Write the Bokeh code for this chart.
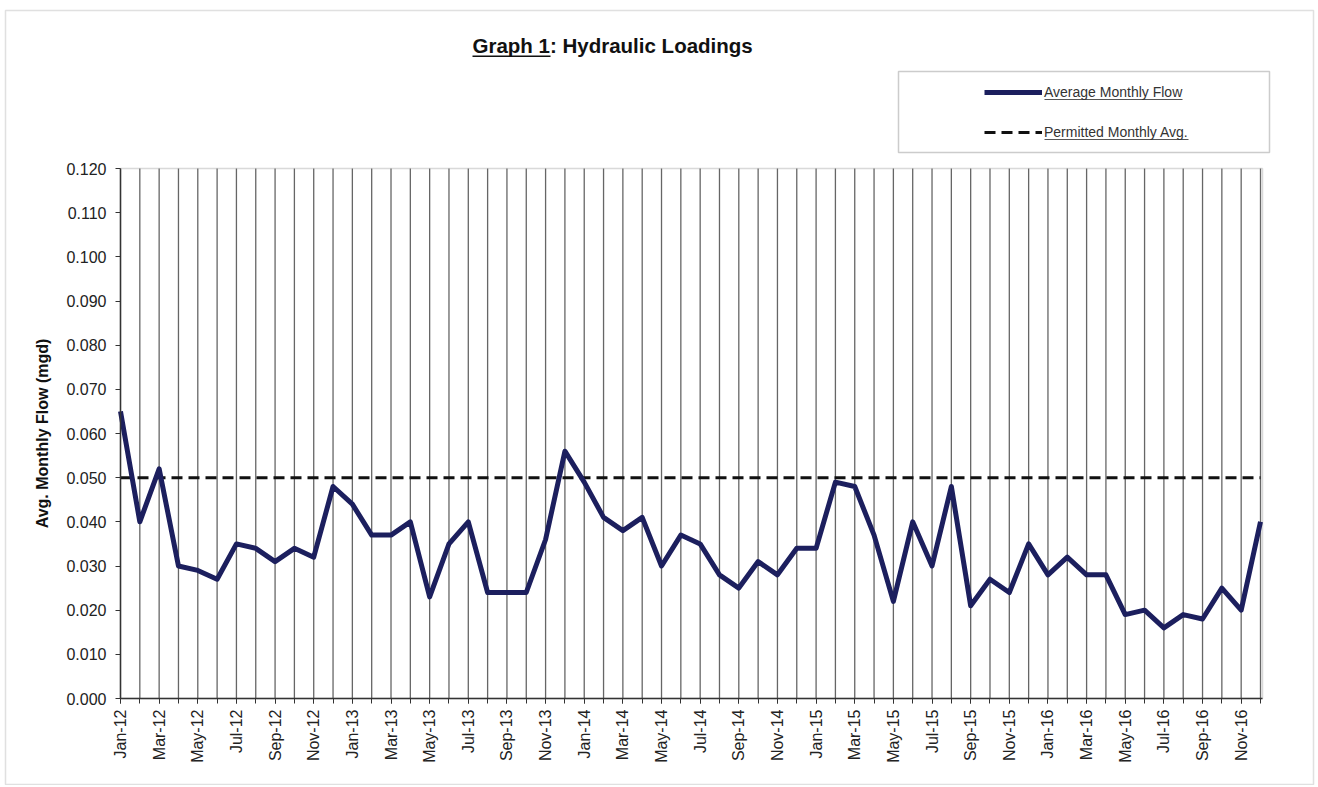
from bokeh.plotting import figure
from bokeh.models import (FixedTicker, Label, BoxAnnotation, Legend, LegendItem,
                          Range1d, PrintfTickFormatter)
from bokeh.embed import file_html
from bokeh.resources import INLINE

# ---- data ----
month_names = ["Jan", "Feb", "Mar", "Apr", "May", "Jun",
               "Jul", "Aug", "Sep", "Oct", "Nov", "Dec"]
years = ["12", "13", "14", "15", "16"]
months = [f"{m}-{y}" for y in years for m in month_names]

flow_2012 = [0.065, 0.040, 0.052, 0.030, 0.029, 0.027, 0.035, 0.034, 0.031, 0.034, 0.032, 0.048]
flow_2013 = [0.044, 0.037, 0.037, 0.040, 0.023, 0.035, 0.040, 0.024, 0.024, 0.024, 0.036, 0.056]
flow_2014 = [0.049, 0.041, 0.038, 0.041, 0.030, 0.037, 0.035, 0.028, 0.025, 0.031, 0.028, 0.034]
flow_2015 = [0.034, 0.049, 0.048, 0.037, 0.022, 0.040, 0.030, 0.048, 0.021, 0.027, 0.024, 0.035]
flow_2016 = [0.028, 0.032, 0.028, 0.028, 0.019, 0.020, 0.016, 0.019, 0.018, 0.025, 0.020, 0.040]
avg_monthly_flow = flow_2012 + flow_2013 + flow_2014 + flow_2015 + flow_2016
permitted_monthly_avg = 0.050

y_ticks = [0.000, 0.010, 0.020, 0.030, 0.040, 0.050, 0.060,
           0.070, 0.080, 0.090, 0.100, 0.110, 0.120]
y_max = 0.120

# ---- layout (page pixels) ----
W, H = 1316, 785
PLOT_L, PLOT_R, PLOT_T, PLOT_B = 120, 1262, 168, 698
LAST_MONTH_PX = 1260
FONT = "Liberation Sans"

x_idx = list(range(len(months)))
ppm = (LAST_MONTH_PX - PLOT_L) / (len(months) - 1)      # px per month
x_end = (PLOT_R - PLOT_L) / ppm
ppy = (PLOT_B - PLOT_T) / y_max                        # px per unit

p = figure(width=W, height=H, output_backend="svg", toolbar_location=None, title=None,
           x_range=Range1d(-PLOT_L / ppm, (W - PLOT_L) / ppm),
           y_range=Range1d(-(H - PLOT_B) / ppy, y_max + PLOT_T / ppy),
           min_border=0, min_border_left=0, min_border_right=0,
           min_border_top=0, min_border_bottom=0)
p.background_fill_color = "white"
p.border_fill_color = "white"
p.outline_line_color = None
p.xgrid.visible = False
p.ygrid.visible = False


def sx(px):          # page x -> screen units of the (full-canvas) frame
    return px


def sy(py):          # page y -> screen units (measured from bottom)
    return H - py


# plot-area rectangle and monthly vertical grid lines
p.add_layout(BoxAnnotation(left=0, right=x_end, bottom=0, top=y_max,
                           fill_alpha=0, line_color="#808080", line_width=1.5,
                           level="underlay"))
p.segment(x0=x_idx[1:], y0=[0] * (len(x_idx) - 1), x1=x_idx[1:], y1=[y_max] * (len(x_idx) - 1),
          line_color="#666666", line_width=1.3, level="underlay")

# x axis
xa = p.xaxis[0]
xa.fixed_location = 0
xa.bounds = (0, x_end)
xa.ticker = FixedTicker(ticks=x_idx[::2], minor_ticks=x_idx)
xa.major_label_overrides = {i: months[i] for i in x_idx[::2]}
xa.major_label_orientation = 3.14159265 / 2
xa.major_label_text_font = FONT
xa.major_label_text_font_size = "16px"
xa.major_label_text_color = "#222222"
xa.major_label_standoff = 6
xa.major_tick_in = 0
xa.major_tick_out = 5
xa.minor_tick_in = 0
xa.minor_tick_out = 5
xa.axis_line_color = "#333333"
xa.axis_line_width = 1.5
xa.major_tick_line_color = "#333333"
xa.minor_tick_line_color = "#333333"

# y axis
ya = p.yaxis[0]
ya.fixed_location = 0
ya.bounds = (0, y_max)
ya.ticker = FixedTicker(ticks=y_ticks, minor_ticks=[])
ya.formatter = PrintfTickFormatter(format="%.3f")
ya.major_label_text_font = FONT
ya.major_label_text_font_size = "16px"
ya.major_label_text_color = "#222222"
ya.major_label_standoff = 9
ya.major_tick_in = 0
ya.major_tick_out = 5
ya.axis_line_color = "#333333"
ya.axis_line_width = 1.5
ya.major_tick_line_color = "#333333"
ya.axis_label = "Avg. Monthly Flow (mgd)"
ya.axis_label_text_font = FONT
ya.axis_label_text_font_style = "bold"
ya.axis_label_text_font_size = "16px"
ya.axis_label_text_color = "#111111"
ya.axis_label_standoff = 12

# series
r_perm = p.line(x=[x_idx[0], x_idx[-1]], y=[permitted_monthly_avg, permitted_monthly_avg],
                line_color="#111111", line_width=3, line_dash="11 6")
r_flow = p.line(x=x_idx, y=avg_monthly_flow, line_color="#1c1f5e", line_width=5,
                line_join="round")

# legend
legend = Legend(items=[LegendItem(label="Average Monthly Flow", renderers=[r_flow]),
                       LegendItem(label="Permitted Monthly Avg.", renderers=[r_perm])],
                location=(sx(984), sy(142)), border_line_alpha=0, background_fill_alpha=0,
                padding=0, margin=0, spacing=20, glyph_width=58, glyph_height=20,
                label_height=20, label_standoff=2, label_text_font=FONT,
                label_text_font_size="14px", label_text_color="#333333")
p.add_layout(legend)

p.add_layout(BoxAnnotation(left=sx(898), right=sx(1269), top=sy(71), bottom=sy(152),
                           left_units="screen", right_units="screen",
                           top_units="screen", bottom_units="screen",
                           fill_alpha=0, line_color="#555555", line_width=1.5))
# legend label underlines
p.add_layout(BoxAnnotation(left=sx(1044), right=sx(1182), top=sy(98.5), bottom=sy(99.5),
                           left_units="screen", right_units="screen",
                           top_units="screen", bottom_units="screen",
                           fill_color="#555555", fill_alpha=1, line_alpha=0))
p.add_layout(BoxAnnotation(left=sx(1044), right=sx(1188), top=sy(138.5), bottom=sy(139.5),
                           left_units="screen", right_units="screen",
                           top_units="screen", bottom_units="screen",
                           fill_color="#555555", fill_alpha=1, line_alpha=0))

# title
p.add_layout(Label(x=sx(472), y=sy(45), x_units="screen", y_units="screen",
                   text="Graph 1:  Hydraulic Loadings", text_font=FONT,
                   text_font_style="bold", text_font_size="20.5px",
                   text_align="left", text_baseline="middle", text_color="#111111"))
p.add_layout(BoxAnnotation(left=sx(472), right=sx(550), top=sy(55), bottom=sy(56.5),
                           left_units="screen", right_units="screen",
                           top_units="screen", bottom_units="screen",
                           fill_color="#111111", fill_alpha=1, line_alpha=0))

# outer frame around the whole chart
p.add_layout(BoxAnnotation(left=sx(5), right=sx(1313), top=sy(10), bottom=sy(784),
                           left_units="screen", right_units="screen",
                           top_units="screen", bottom_units="screen",
                           fill_alpha=0, line_color="#999999", line_width=1.5))

open("out.html", "w").write(file_html(p, INLINE))
